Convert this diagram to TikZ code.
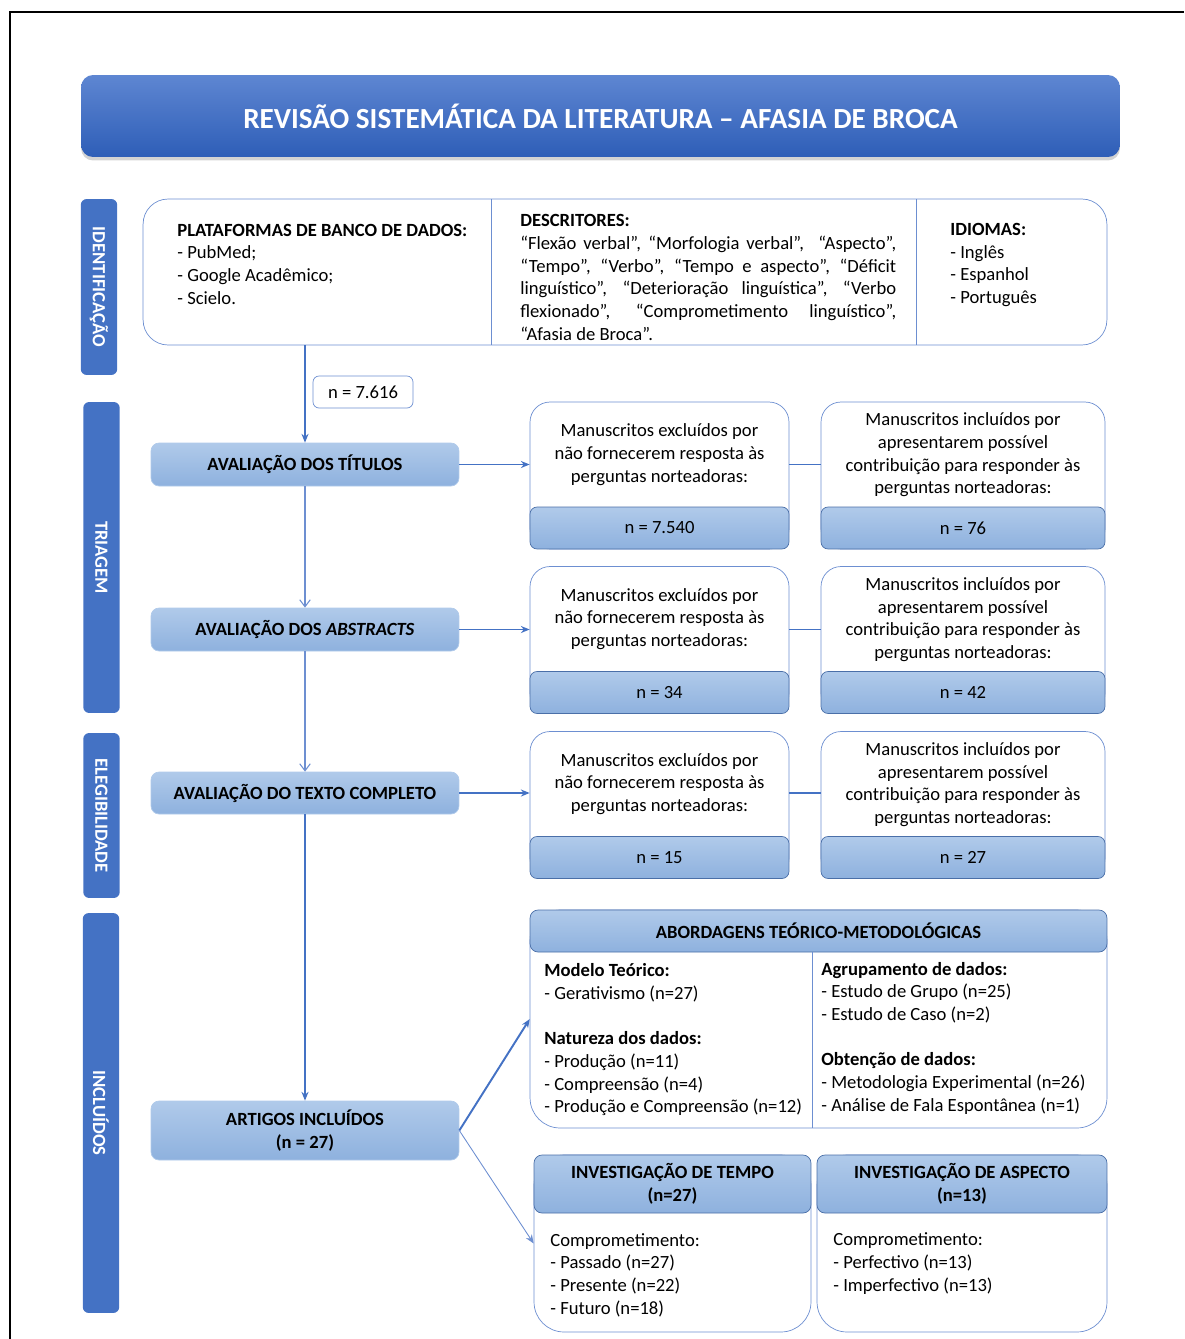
\documentclass[tikz,border=0pt]{standalone}
\usepackage{fontspec}
\setmainfont{Carlito}
\usetikzlibrary{arrows.meta,shadows}

\definecolor{mainblue}{HTML}{4472C4}
\definecolor{edgeblue}{HTML}{6D8FD1}
\definecolor{darkedge}{HTML}{4A6FA8}
\definecolor{paleA}{HTML}{B0CAEA}
\definecolor{paleB}{HTML}{8EB1DE}
\definecolor{headA}{HTML}{5E86D2}
\definecolor{headB}{HTML}{2E5EB7}

\begin{document}
\begin{tikzpicture}[x=0.02cm,y=-0.02cm,
    every node/.style={font=\fontsize{10.6}{12.9}\selectfont},
    titlebox/.style={rounded corners=0.24cm,top color=headA,bottom color=headB,draw=none,
      text=white,font=\fontsize{16.6}{19}\selectfont\bfseries,
      drop shadow={shadow xshift=0pt,shadow yshift=-0.07cm,opacity=0.35}},
    sidebar/.style={fill=mainblue,rounded corners=0.12cm,rotate=-90,text=white,
      font=\fontsize{10.6}{12.9}\selectfont\bfseries,minimum height=0.73cm,inner sep=0},
    procbox/.style={rounded corners=0.16cm,top color=paleA,bottom color=paleB,draw=paleA,
      font=\fontsize{10.6}{12.9}\selectfont\bfseries,minimum width=6.16cm,align=center},
    outbox/.style={rounded corners=0.4cm,draw=edgeblue,fill=white,minimum height=2.94cm},
    countbox/.style={rounded corners=0.14cm,top color=paleA,bottom color=paleB,draw=darkedge,
      minimum height=0.84cm},
    headbox/.style={rounded corners=0.16cm,top color=paleA,bottom color=paleB,draw=darkedge,
      font=\fontsize{10.6}{12.9}\selectfont\bfseries,align=center},
    bodytext/.style={inner sep=0,align=left},
    conn/.style={draw=mainblue,line width=0.9pt},
    vconn/.style={draw=edgeblue,line width=0.6pt},
    >={Stealth[length=5pt,width=4pt]}]

  \useasboundingbox (0,0) rectangle (1184,1339);
  \draw[line width=0.9pt] (10,1339) -- (10,12) -- (1184,12);

  \node[titlebox,minimum width=20.78cm,minimum height=1.64cm] (title) at (600.5,116)
    {REVISÃO SISTEMÁTICA DA LITERATURA – AFASIA DE BROCA};

  % fases
  \node[sidebar,minimum width=3.52cm] (side-id) at (99,287) {IDENTIFICAÇÃO};
  \node[sidebar,minimum width=6.22cm] (side-tri) at (101.5,557.5) {TRIAGEM};
  \node[sidebar,minimum width=3.3cm] (side-ele) at (101.5,815.5) {ELEGIBILIDADE};
  \node[sidebar,minimum width=8cm] (side-inc) at (101,1113) {INCLUÍDOS};

  % identificacao
  \node[rounded corners=0.5cm,draw=edgeblue,minimum width=19.28cm,minimum height=2.92cm] (top-box) at (625,272) {};
  \draw[draw=edgeblue] (491,199) -- (491,345);
  \draw[draw=edgeblue] (916,199) -- (916,345);
  \node[bodytext,anchor=west] (plat-txt) at (177,264)
    {\textbf{PLATAFORMAS DE BANCO DE DADOS:}\\- PubMed;\\- Google Acadêmico;\\- Scielo.};
  \node[bodytext,anchor=west,text width=7.52cm,align=justify] (desc-txt) at (520,277.5)
    {\textbf{DESCRITORES:}\linebreak
     “Flexão verbal”, “Morfologia verbal”, \ “Aspecto”,\linebreak
     “Tempo”, “Verbo”, “Tempo e aspecto”, “Déficit\linebreak
     linguístico”, “Deterioração linguística”, “Verbo\linebreak
     flexionado”, “Comprometimento linguístico”,\linebreak
     “Afasia de Broca”.};
  \node[bodytext,anchor=west] (lang-txt) at (950,265)
    {\textbf{IDIOMAS:}\\- Inglês\\- Espanhol\\- Português};

  % avaliacoes
  \node[procbox,minimum height=0.86cm] (tit-box) at (305,464.5) {AVALIAÇÃO DOS TÍTULOS};
  \node[procbox,minimum height=0.86cm] (abs-box) at (305,629.5) {AVALIAÇÃO DOS \textit{ABSTRACTS}};
  \node[procbox,minimum height=0.84cm] (txt-box) at (305,793) {AVALIAÇÃO DO TEXTO COMPLETO};
  \node[procbox,minimum height=1.18cm] (art-box) at (305,1130.5) {ARTIGOS INCLUÍDOS\\(n = 27)};

  \node[rounded corners=0.12cm,draw=edgeblue,fill=white,minimum width=2cm,minimum height=0.64cm] (n-total) at (363,392) {n = 7.616};

  \draw[conn,->] (top-box.south -| tit-box.north) -- (tit-box.north);
  \draw[vconn,-{Straight Barb[length=4pt,width=6pt]}] (tit-box.south) -- (abs-box.north);
  \draw[vconn,-{Straight Barb[length=4pt,width=6pt]}] (abs-box.south) -- (txt-box.north);
  \draw[conn,->] (txt-box.south) -- (art-box.north);

  % excluidos / incluidos
  \foreach \i/\yc/\nex/\nin/\src in {1/475.5/7.540/76/tit-box,2/640/34/42/abs-box,3/805/15/27/txt-box}{
    \node[outbox,minimum width=5.18cm] (ex-\i) at (659.5,\yc) {};
    \node[countbox,minimum width=5.18cm,anchor=south] (ex-n-\i) at (ex-\i.south) {n = \nex};
    \node[bodytext,align=center] (ex-t-\i) at (659.5,\yc-21)
      {Manuscritos excluídos por\\não fornecerem resposta às\\perguntas norteadoras:};
    \node[outbox,minimum width=5.68cm] (in-\i) at (963,\yc) {};
    \node[countbox,minimum width=5.68cm,anchor=south] (in-n-\i) at (in-\i.south) {n = \nin};
    \node[bodytext,align=center] (in-t-\i) at (963,\yc-20.5)
      {Manuscritos incluídos por\\apresentarem possível\\contribuição para responder às\\perguntas norteadoras:};
    \draw[conn,->] (\src.east) -- (\src.east -| ex-\i.west);
    \draw[conn] (ex-\i.east |- \src.east) -- (in-\i.west |- \src.east);
  }

  % abordagens
  \node[outbox,rounded corners=0.6cm,minimum width=11.54cm,minimum height=4.36cm] (abord-box) at (818.5,1019) {};
  \node[headbox,minimum width=11.54cm,minimum height=0.84cm] (abord-head) at (818.5,931) {ABORDAGENS TEÓRICO-METODOLÓGICAS};
  \draw[draw=edgeblue] (812,952) -- (812,1128);
  \node[bodytext,anchor=west] (abord-left) at (544,1040)
    {\textbf{Modelo Teórico:}\\- Gerativismo (n=27)\\[12.9pt]\textbf{Natureza dos dados:}\\- Produção (n=11)\\- Compreensão (n=4)\\- Produção e Compreensão (n=12)};
  \node[bodytext,anchor=west] (abord-right) at (821,1038)
    {\textbf{Agrupamento de dados:}\\- Estudo de Grupo (n=25)\\- Estudo de Caso (n=2)\\[12.9pt]\textbf{Obtenção de dados:}\\- Metodologia Experimental (n=26)\\- Análise de Fala Espontânea (n=1)};

  % investigacoes
  \node[outbox,rounded corners=0.6cm,minimum width=5.54cm,minimum height=3.54cm] (tempo-box) at (672.5,1243.5) {};
  \node[headbox,minimum width=5.54cm,minimum height=1.16cm] (tempo-head) at (672.5,1184) {INVESTIGAÇÃO DE TEMPO\\(n=27)};
  \node[bodytext,anchor=west] (tempo-txt) at (550,1275)
    {Comprometimento:\\- Passado (n=27)\\- Presente (n=22)\\- Futuro (n=18)};
  \node[outbox,rounded corners=0.6cm,minimum width=5.8cm,minimum height=3.54cm] (asp-box) at (962,1243.5) {};
  \node[headbox,minimum width=5.8cm,minimum height=1.16cm] (asp-head) at (962,1184) {INVESTIGAÇÃO DE ASPECTO\\(n=13)};
  \node[bodytext,anchor=west] (asp-txt) at (833,1263.5)
    {Comprometimento:\\- Perfectivo (n=13)\\- Imperfectivo (n=13)};

  \draw[conn,line width=1.1pt,->] (art-box.east) -- (abord-box.west);
  \draw[vconn,line width=0.5pt,->] (art-box.east) -- (tempo-box.west);
\end{tikzpicture}
\end{document}
